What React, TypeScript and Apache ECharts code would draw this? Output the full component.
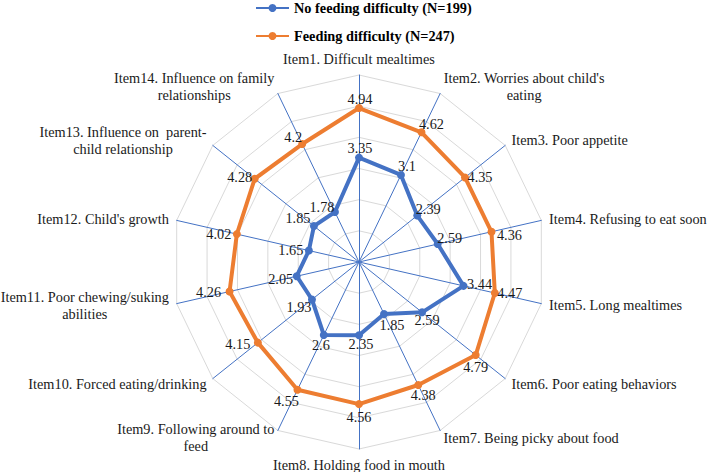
import React, { useEffect, useRef } from 'react';
import * as echarts from 'echarts';

// ---- data ----
const itemNames: string[] = [
  'Item1. Difficult mealtimes',
  "Item2. Worries about child's\neating",
  'Item3. Poor appetite',
  'Item4. Refusing to eat soon',
  'Item5. Long mealtimes',
  'Item6. Poor eating behaviors',
  'Item7. Being picky about food',
  'Item8. Holding food in mouth',
  'Item9. Following around to\nfeed',
  'Item10. Forced eating/drinking',
  'Item11. Poor chewing/suking\nabilities',
  "Item12. Child's growth",
  'Item13. Influence on  parent-\nchild relationship',
  'Item14. Influence on family\nrelationships',
];
const noDifficultyValues: number[] = [3.35, 3.1, 2.39, 2.59, 3.44, 2.59, 1.85, 2.35, 2.6, 1.93, 2.05, 1.65, 1.85, 1.78];
const difficultyValues: number[] = [4.94, 4.62, 4.35, 4.36, 4.47, 4.79, 4.38, 4.56, 4.55, 4.15, 4.26, 4.02, 4.28, 4.2];
const seriesNames: string[] = ['No feeding difficulty (N=199)', 'Feeding difficulty (N=247)'];
const axisMax = 6;
const axisSplits = 6;

// ---- label placement (style, not data) ----
const noDifficultyLabelOffsets: number[][] = [
  [1, -10], [6, -9], [11, -7], [12, -6], [16, -2], [5, 8], [8, 11],
  [2, 9], [-3, 10], [-13, 7], [-16, 3], [-18, -1], [-16, -8], [-13, -5],
];
const difficultyLabelOffsets: number[][] = [
  [1, -9], [10, -8], [15, 0], [18, 3], [15, 0], [0, 12], [5, 10],
  [0, 13], [-11, 11], [-20, 1], [-21, 0], [-18, 0], [-15, -2], [-9, -7],
];

const BLUE = '#4472C4';
const ORANGE = '#ED7D31';
const FONT = 'Liberation Serif';
const FS = 14.3;
const CENTER = [359, 262];
const RADIUS = 187;

function buildLineData(values: number[], offsets: number[][]) {
  const pts: any[] = values.map((v, i) => ({
    value: [v, i],
    label: { offset: offsets[i] },
  }));
  // close the loop back to the first axis
  pts.push({ value: [values[0], values.length], symbol: 'none', label: { show: false } });
  return pts;
}

export default function App() {
  const ref = useRef<HTMLDivElement>(null);
  useEffect(() => {
    if (!ref.current) return;
    const chart = echarts.init(ref.current, null, { renderer: 'svg' });
    const n = itemNames.length;
    // ECharts radar goes counter-clockwise; reorder so items run clockwise
    const clockwiseOrder = [0, ...Array.from({ length: n - 1 }, (_, k) => n - 1 - k)];
    const indicators = clockwiseOrder.map((i) => ({ name: itemNames[i], min: 0, max: axisMax }));

    const labelStyle = {
      show: true,
      position: 'inside',
      fontFamily: FONT,
      fontSize: FS,
      color: '#1a1a1a',
      formatter: (p: any) => String(p.value[0]),
    };

    const option: any = {
      animation: false,
      backgroundColor: '#ffffff',
      textStyle: { fontFamily: FONT },
      legend: {
        orient: 'vertical',
        left: 255,
        top: 1,
        padding: 0,
        itemGap: 14,
        itemWidth: 33,
        itemHeight: 10,
        data: seriesNames,
        textStyle: { fontFamily: FONT, fontSize: FS, fontWeight: 'bold', color: '#000' },
      },
      radar: {
        center: CENTER,
        radius: RADIUS,
        startAngle: 90,
        shape: 'polygon',
        splitNumber: axisSplits,
        nameGap: 8,
        indicator: indicators,
        axisName: {
          color: '#1a1a1a',
          fontFamily: FONT,
          fontSize: FS,
          formatter: (name: string) =>
            name.split('\n').map((s) => `{c|${s}}`).join('\n'),
          rich: {
            c: { align: 'center', fontFamily: FONT, fontSize: FS, lineHeight: 16.5, color: '#1a1a1a' },
          },
        },
        axisLine: { show: true, lineStyle: { color: BLUE, width: 1 } },
        splitLine: { show: true, lineStyle: { color: '#D9D9D9', width: 1 } },
        splitArea: { show: false },
        axisTick: { show: false },
        axisLabel: { show: false },
      },
      polar: { center: CENTER, radius: RADIUS },
      angleAxis: {
        type: 'value',
        min: 0,
        max: n,
        startAngle: 90,
        clockwise: true,
        show: false,
        axisLine: { show: false },
        splitLine: { show: false },
        axisTick: { show: false },
        axisLabel: { show: false },
      },
      radiusAxis: {
        type: 'value',
        min: 0,
        max: axisMax,
        show: false,
        axisLine: { show: false },
        splitLine: { show: false },
        axisTick: { show: false },
        axisLabel: { show: false },
      },
      series: [
        {
          name: seriesNames[0],
          type: 'line',
          coordinateSystem: 'polar',
          data: buildLineData(noDifficultyValues, noDifficultyLabelOffsets),
          symbol: 'circle',
          symbolSize: 8,
          lineStyle: { color: BLUE, width: 4 },
          itemStyle: { color: BLUE },
          label: labelStyle,
          emphasis: { disabled: true },
          z: 3,
        },
        {
          name: seriesNames[1],
          type: 'line',
          coordinateSystem: 'polar',
          data: buildLineData(difficultyValues, difficultyLabelOffsets),
          symbol: 'circle',
          symbolSize: 8,
          lineStyle: { color: ORANGE, width: 4 },
          itemStyle: { color: ORANGE },
          label: labelStyle,
          emphasis: { disabled: true },
          z: 4,
        },
      ],
    };
    chart.setOption(option);
    return () => chart.dispose();
  }, []);
  return (
    <div
      ref={ref}
      style={{ position: 'fixed', left: 0, top: 0, width: 709, height: 472, background: '#fff' }}
    />
  );
}
